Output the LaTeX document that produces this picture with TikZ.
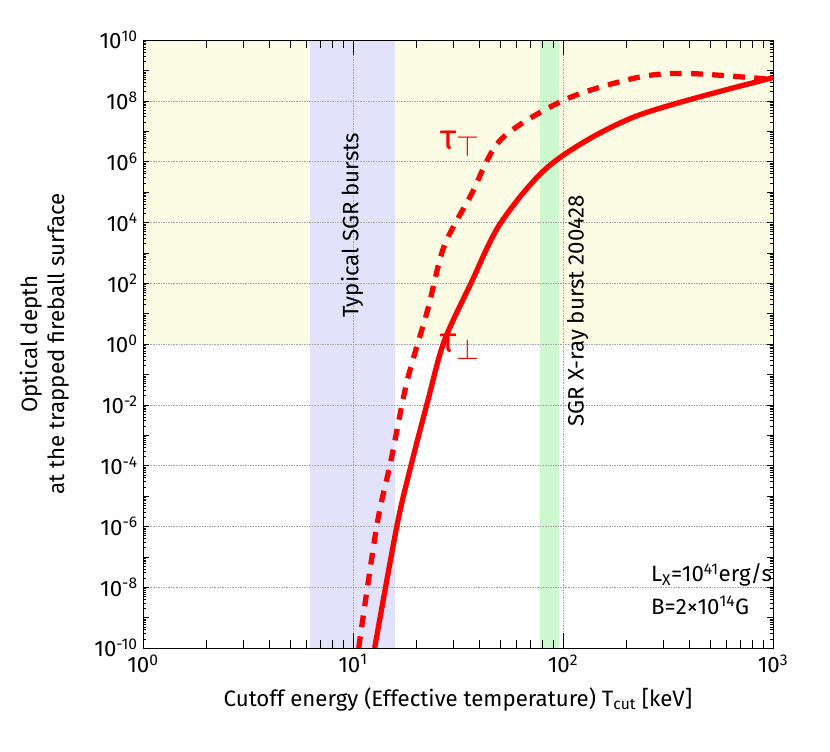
\documentclass[tikz,border=0pt]{standalone}
\usepackage{fontspec}
\setmainfont{Fira Sans}[Scale=1]
\usepackage[x11names]{xcolor}
\definecolor{bandyellow}{RGB}{252,252,228}
\definecolor{bandblue}{RGB}{226,226,250}
\definecolor{bandgreen}{RGB}{206,248,206}

\begin{document}
\begin{tikzpicture}[font=\fontsize{19}{23}\selectfont]
    \useasboundingbox (0, 0) rectangle (24.9, 22.53);
    \begin{scope}[x = 6.3cm, y = 0.912cm, shift = {(4.29cm, 12.21cm)}]
        \fill [bandyellow] (0, 0) rectangle (3, 10);
        \fill [bandblue] (0.795, -10) rectangle (1.2, 10);
        \fill [bandgreen] (1.89, -10) rectangle (1.98, 10);
        \foreach \i in {1, 2} {
            \draw [gray!70, densely dotted] (\i, -10) -- (\i, 10);
        }
        \foreach \j in {-8, -6, ..., 8} {
            \draw [gray!70, densely dotted] (0, \j) -- (3, \j);
        }
        % log ticks
        \foreach \d in {0, 1, 2} {
            \draw (\d, -10) -- +(0, 0.5) (\d, 10) -- +(0, -0.5);
            \foreach \k in {2, ..., 9} {
                \pgfmathsetmacro\lx{\d + log10(\k)}
                \draw (\lx, -10) -- +(0, 0.25) (\lx, 10) -- +(0, -0.25);
            }
        }
        \foreach \d in {-10, ..., 9} {
            \draw (0, \d) -- +(0.03, 0) (3, \d) -- +(-0.03, 0);
            \foreach \k in {2, ..., 9} {
                \pgfmathsetmacro\ly{\d + log10(\k)}
                \draw (0, \ly) -- +(0.015, 0) (3, \ly) -- +(-0.015, 0);
            }
        }
        \draw [thick] (0, -10) rectangle (3, 10);
        \foreach \i in {0, 1, 2, 3} {
            \node [below = 2pt] at (\i, -10) {10\textsuperscript{\i}};
        }
        \foreach \j in {-10, -8, ..., 10} {
            \node [left = 1pt] at (0, \j) {10\textsuperscript{\j}};
        }
        \node [rotate = 90] (typ) at (0.995, 3.9) {Typical SGR bursts};
        \node [rotate = 90] (xrb) at (2.07, 1.1) {SGR X-ray burst 200428};
        \draw [red, line width = 4.5pt] plot [smooth] coordinates {
            (1.103, -10) (1.21, -5.95) (1.276, -4.0) (1.355, -1.9) (1.433, 0.07)
            (1.562, 2.0) (1.705, 4.0) (1.95, 5.95) (2.35, 7.5) (3.0, 8.76)};
        \draw [red, line width = 4.5pt, dash pattern = on 10pt off 8pt] plot [smooth] coordinates {
            (1.027, -10) (1.114, -5.95) (1.18, -3.86) (1.257, -1.24) (1.355, 1.11)
            (1.433, 3.2) (1.562, 4.9) (1.705, 6.73) (2.01, 8.04) (2.35, 8.76)
            (2.59, 8.9) (3.0, 8.7)};
        \node [red, font = \fontsize{30}{30}\selectfont] (taupar) at (1.51, 6.6) {τ\raisebox{-6pt}{$\top$}};
        \node [red, font = \fontsize{30}{30}\selectfont] (tauperp) at (1.51, -0.1) {τ\raisebox{-6pt}{$\perp$}};
        \node [anchor = west] (lum) at (2.4, -7.6) {L\textsubscript{X}=10\textsuperscript{41}erg/s};
        \node [anchor = west] (mag) at (2.4, -8.6) {B=2×10\textsuperscript{14}G};
        \node [below = 30pt] (xlab) at (1.5, -10) {Cutoff energy (Effective temperature) T\textsubscript{cut} [keV]};
        \node [rotate = 90, align = center] (ylab) at (-0.47, 0) {Optical depth\\at the trapped fireball surface};
    \end{scope}
\end{tikzpicture}
\end{document}
